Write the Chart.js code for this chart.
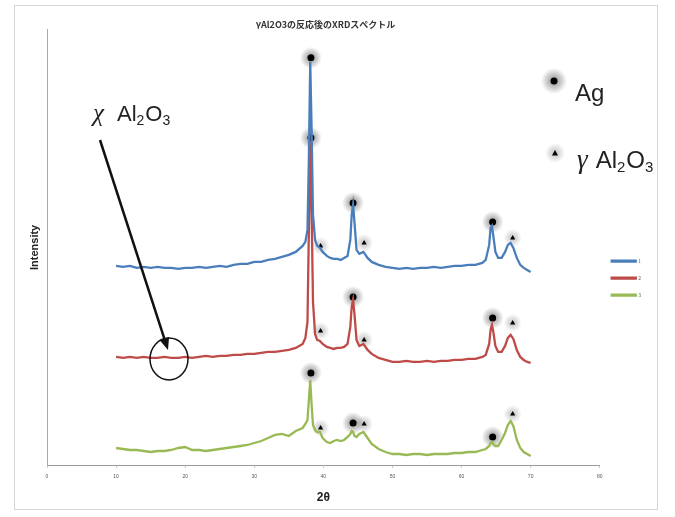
<!DOCTYPE html>
<html>
<head>
<meta charset="utf-8">
<script src="https://cdn.jsdelivr.net/npm/chart.js@4.4.1/dist/chart.umd.min.js"></script>
<style>
  html, body { margin: 0; padding: 0; background: #fff; }
  canvas { display: block; }
</style>
</head>
<body>
<canvas id="xrd" width="675" height="517"></canvas>
<script>
"use strict";

// 2θ sampling (denser around the peaks)
const twoTheta = [10, 11, 12, 13, 14, 15, 16, 17, 18, 19, 20, 21, 22, 23, 24, 25, 26, 27, 28, 29, 30, 31, 32, 33, 34, 35, 36, 37,
  37.4, 37.7, 37.9, 38.1, 38.3, 38.5, 38.8, 39.1, 39.5, 39.9, 40.5, 41, 41.5, 42, 42.5, 43, 43.5, 43.9, 44.1, 44.3, 44.5, 44.8, 45.2, 45.8, 46.4, 47,
  48, 49, 50, 51, 52, 53, 54, 55, 56, 57, 58, 59, 60, 61, 62, 63,
  63.5, 64, 64.2, 64.4, 64.6, 64.9, 65.3, 65.8, 66.3, 66.7, 67.1, 67.5, 68, 68.5, 69, 69.5, 70];

const blueSeries = [196, 195, 196, 194, 195, 194, 195, 194, 194, 193, 194, 194, 195, 194, 195, 196, 195, 197, 198, 198, 200, 200, 202, 203, 205, 207, 210, 216,
  220, 232, 302, 400, 332, 247, 222, 216, 214, 210, 206, 204, 203, 203, 202, 204, 206, 222, 247, 257, 240, 212, 208, 210, 204, 200,
  197, 195, 194, 193, 194, 193, 194, 194, 195, 194, 195, 196, 196, 197, 197, 199,
  202, 217, 234, 236, 226, 210, 204, 204, 210, 217, 219, 214, 204, 197, 194, 192, 190];

const redSeries = [105, 104, 105, 104, 105, 104, 104, 105, 104, 104, 105, 104, 105, 106, 105, 106, 106, 107, 107, 108, 108, 109, 110, 110, 111, 112, 114, 118,
  124, 140, 230, 320, 250, 160, 128, 122, 121, 118, 115, 114, 113, 114, 114, 115, 118, 135, 155, 162, 148, 122, 116, 118, 112, 108,
  104, 102, 100, 100, 101, 100, 100, 101, 100, 101, 101, 102, 102, 103, 103, 105,
  107, 118, 132, 137, 130, 116, 110, 110, 116, 124, 127, 123, 112, 105, 102, 100, 99];

const greenSeries = [14, 13, 12, 12, 11, 10, 11, 11, 12, 14, 15, 12, 12, 11, 12, 13, 14, 15, 16, 17, 19, 21, 24, 27, 28, 26, 31, 34,
  38, 42, 62, 82, 57, 37, 32, 30, 30, 24, 20, 19, 21, 22, 21, 22, 25, 28, 31, 30, 26, 25, 28, 30, 24, 18,
  13, 10, 8, 8, 7, 8, 8, 7, 8, 8, 8, 9, 9, 10, 10, 12,
  13, 16, 19, 20, 18, 16, 16, 22, 29, 37, 41, 36, 22, 14, 10, 8, 6];

const seriesNames = ["1", "2", "3"];
const seriesColors = ["#4a7ebb", "#be4b48", "#98b954"];

// peak markers: Ag (dots) and γ-Al2O3 (triangles)
const agPeaks = [38.2, 44.3, 64.5];
const gammaPeaks = [39.6, 45.9, 67.4];
const blueAg = [404, 259, 240];
const redAg = [324, 165, 144];
const greenAg = [89, 39, 25];
const blueGamma = [216, 219, 224];
const redGamma = [131, 122, 139];
const greenGamma = [34, 38, 48];

const toPoints = (xs, ys) => xs.map((x, i) => ({ x: x, y: ys[i] }));

const agPoints = [].concat(toPoints(agPeaks, blueAg), toPoints(agPeaks, redAg), toPoints(agPeaks, greenAg));
const gammaPoints = [].concat(toPoints(gammaPeaks, blueGamma), toPoints(gammaPeaks, redGamma), toPoints(gammaPeaks, greenGamma));

const lineSet = (label, values, color) => ({
  type: "line",
  label: label,
  data: toPoints(twoTheta, values),
  borderColor: color,
  backgroundColor: color,
  borderWidth: 2.3,
  pointRadius: 0,
  tension: 0
});

function halo(ctx, x, y, r, alpha) {
  const g = ctx.createRadialGradient(x, y, 0, x, y, r);
  g.addColorStop(0, "rgba(0,0,0," + alpha + ")");
  g.addColorStop(0.45, "rgba(0,0,0," + (alpha * 0.55) + ")");
  g.addColorStop(1, "rgba(0,0,0,0)");
  ctx.fillStyle = g;
  ctx.beginPath();
  ctx.arc(x, y, r, 0, Math.PI * 2);
  ctx.fill();
}

// soft grey halo behind the peak markers
const glowPlugin = {
  id: "glow",
  beforeDatasetDraw(chart, args) {
    if (args.index < 3) return;
    const ctx = chart.ctx;
    ctx.save();
    args.meta.data.forEach((pt) => {
      if (args.index === 3) halo(ctx, pt.x, pt.y, 11, 0.45);
      else halo(ctx, pt.x, pt.y, 9, 0.25);
    });
    ctx.restore();
  }
};

function keyTriangle(ctx, x, y, s) {
  ctx.fillStyle = "#000";
  ctx.beginPath();
  ctx.moveTo(x, y - s);
  ctx.lineTo(x + s, y + s * 0.8);
  ctx.lineTo(x - s, y + s * 0.8);
  ctx.closePath();
  ctx.fill();
}

function formula(ctx, x, y, greek, size, sub, gap) {
  ctx.save();
  ctx.fillStyle = "#222";
  ctx.textBaseline = "alphabetic";
  ctx.textAlign = "left";
  ctx.font = "italic " + (size + 3) + "px 'Liberation Serif'";
  ctx.fillText(greek, x, y);
  x += ctx.measureText(greek).width + gap;
  const parts = [["Al", false], ["2", true], ["O", false], ["3", true]];
  parts.forEach(([t, isSub]) => {
    ctx.font = (isSub ? sub : size) + "px 'Liberation Sans'";
    ctx.fillText(t, x, isSub ? y + 4 : y);
    x += ctx.measureText(t).width + (isSub ? 1 : 0);
  });
  ctx.restore();
}

const notesPlugin = {
  id: "notes",
  afterDraw(chart) {
    const ctx = chart.ctx;
    // outer frame
    ctx.save();
    ctx.strokeStyle = "#d6d6d6";
    ctx.lineWidth = 1;
    ctx.strokeRect(14.5, 5.5, 643, 504);
    ctx.restore();

    // χ Al2O3 with arrow and circle
    formula(ctx, 93, 121, "χ", 22, 14, 13);
    ctx.save();
    ctx.strokeStyle = "#111";
    ctx.fillStyle = "#111";
    ctx.lineWidth = 2.5;
    const x0 = 100, y0 = 140, x1 = 168, y1 = 350;
    const ang = Math.atan2(y1 - y0, x1 - x0);
    ctx.beginPath();
    ctx.moveTo(x0, y0);
    ctx.lineTo(x1 - 9 * Math.cos(ang), y1 - 9 * Math.sin(ang));
    ctx.stroke();
    ctx.beginPath();
    ctx.moveTo(x1, y1);
    ctx.lineTo(x1 - 12 * Math.cos(ang) + 5 * Math.sin(ang), y1 - 12 * Math.sin(ang) - 5 * Math.cos(ang));
    ctx.lineTo(x1 - 12 * Math.cos(ang) - 5 * Math.sin(ang), y1 - 12 * Math.sin(ang) + 5 * Math.cos(ang));
    ctx.closePath();
    ctx.fill();
    ctx.lineWidth = 1.5;
    ctx.beginPath();
    ctx.ellipse(169, 359, 19, 21, 0, 0, Math.PI * 2);
    ctx.stroke();

    // key for the markers
    halo(ctx, 554, 81, 13, 0.45);
    ctx.fillStyle = "#000";
    ctx.beginPath();
    ctx.arc(554, 81, 3.5, 0, Math.PI * 2);
    ctx.fill();
    ctx.fillStyle = "#222";
    ctx.font = "24px 'Liberation Sans'";
    ctx.fillText("Ag", 575, 101);
    halo(ctx, 555, 153, 10, 0.25);
    keyTriangle(ctx, 555, 153, 3);
    ctx.restore();
    formula(ctx, 577, 168, "γ", 24, 15, 8);
  }
};

const chart = new Chart(document.getElementById("xrd"), {
  data: {
    datasets: [
      lineSet(seriesNames[0], blueSeries, seriesColors[0]),
      lineSet(seriesNames[1], redSeries, seriesColors[1]),
      lineSet(seriesNames[2], greenSeries, seriesColors[2]),
      {
        type: "scatter",
        label: "Ag",
        data: agPoints,
        pointStyle: "circle",
        pointRadius: 3.5,
        backgroundColor: "#000",
        borderColor: "#000",
        borderWidth: 0
      },
      {
        type: "scatter",
        label: "γAl2O3",
        data: gammaPoints,
        pointStyle: "triangle",
        pointRadius: 3,
        backgroundColor: "#000",
        borderColor: "#000",
        borderWidth: 0
      }
    ]
  },
  options: {
    responsive: false,
    animation: false,
    layout: { padding: { left: 0, right: 24, top: 0, bottom: 0 } },
    plugins: {
      title: {
        display: true,
        text: "γAl2O3の反応後のXRDスペクトル",
        color: "#333",
        font: { family: "'Noto Sans CJK JP'", size: 9, weight: "bold" },
        padding: { top: 19, bottom: 0 }
      },
      legend: {
        position: "right",
        title: { display: true, text: " ", font: { size: 1 }, padding: { top: 19, bottom: 19 } },
        labels: {
          filter: (item) => item.datasetIndex < 3,
          boxWidth: 24,
          boxHeight: 1,
          padding: 12,
          color: "#666",
          font: { family: "'Noto Sans CJK JP'", size: 5 }
        }
      },
      tooltip: { enabled: false }
    },
    scales: {
      x: {
        type: "linear",
        min: 0,
        max: 80,
        ticks: { stepSize: 10, color: "#555", font: { size: 5 }, padding: 6 },
        grid: { display: true, drawOnChartArea: false, tickLength: 3, color: "#ccc" },
        border: { display: true, color: "#999", width: 1 },
        title: {
          display: true,
          text: "2θ",
          color: "#222",
          font: { family: "'Liberation Sans'", size: 12, weight: "bold" },
          padding: { top: 0, bottom: 12 }
        },
        afterFit: (s) => { s.height = 52; }
      },
      y: {
        type: "linear",
        min: -3,
        max: 432,
        ticks: { display: false },
        grid: { display: false },
        border: { display: true, color: "#aaa", width: 1 },
        title: {
          display: true,
          text: "Intensity",
          color: "#222",
          font: { family: "'Liberation Sans'", size: 11, weight: "bold" },
          padding: { top: 28, bottom: 0 }
        },
        afterFit: (s) => { s.width = 47; }
      }
    }
  },
  plugins: [glowPlugin, notesPlugin]
});
</script>
</body>
</html>
